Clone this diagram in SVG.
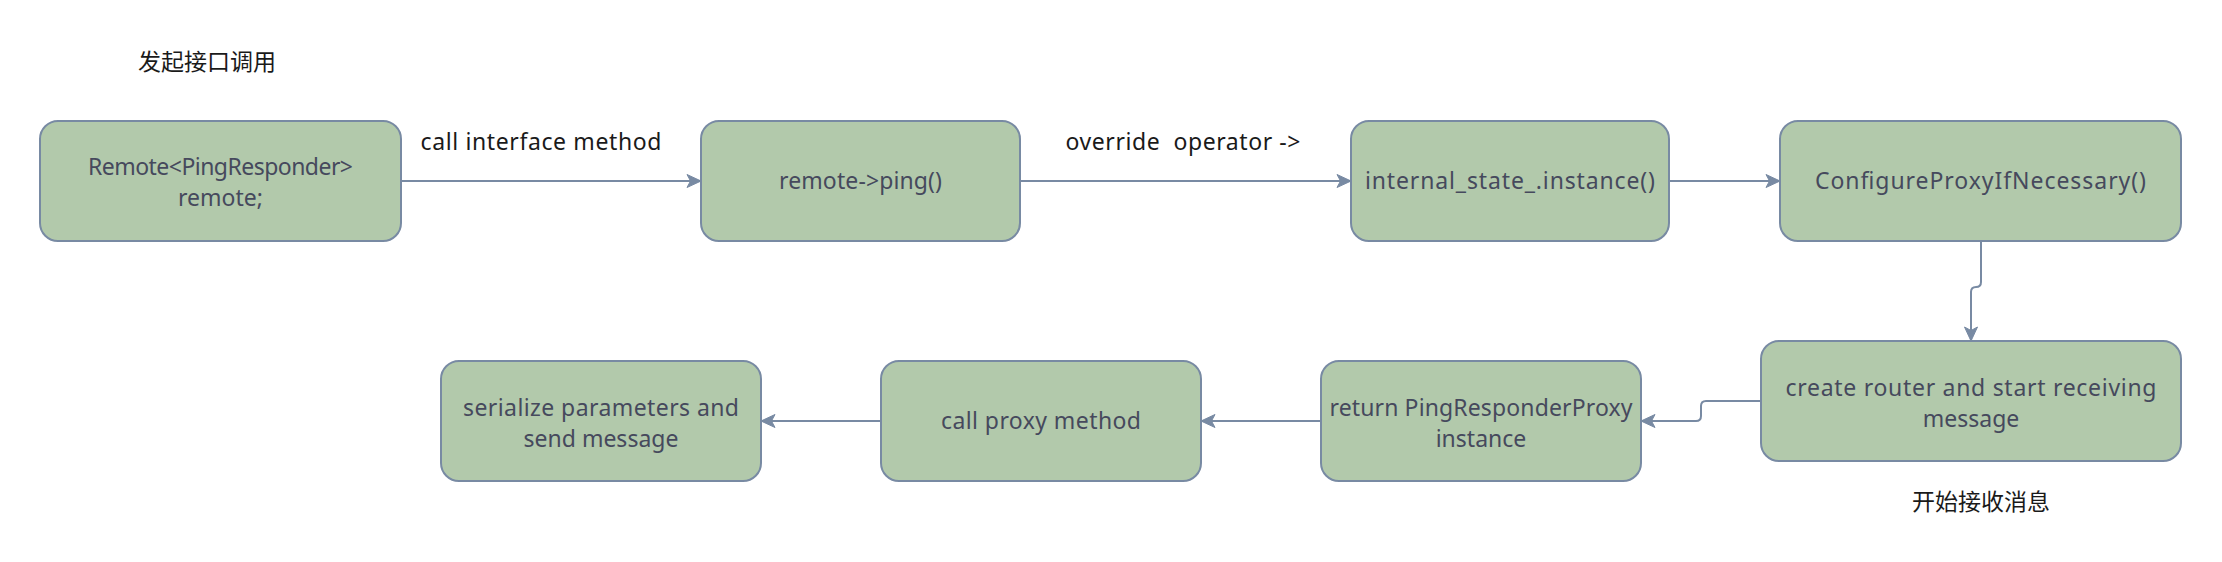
<svg xmlns="http://www.w3.org/2000/svg" width="2222" height="562" viewBox="0 0 2222 562">
<style>
.node rect{fill:#B2C9AB;stroke:#788AA3;stroke-width:2}
.node text{font-family:"Noto Sans","Liberation Sans",sans-serif;font-size:23px;fill:#46495D;text-anchor:middle}
.edge{fill:none;stroke:#788AA3;stroke-width:2}
.lbl{font-family:"Noto Sans","Liberation Sans",sans-serif;font-size:23px;fill:#1A1A1A;text-anchor:middle;white-space:pre}
.cjk{font-family:"Noto Sans CJK SC",sans-serif;font-size:23px;fill:#1A1A1A;text-anchor:middle}
</style>
<defs>
<marker id="arr" markerUnits="userSpaceOnUse" markerWidth="16" markerHeight="16" viewBox="0 0 16 16" refX="15" refY="8" orient="auto">
<path d="M1,1.5 L15,8 L1,14.5 L4.5,8 Z" fill="#788AA3" stroke="#788AA3" stroke-width="1"/>
</marker>
</defs>
<rect width="2222" height="562" fill="#FFFFFF"/>
<text class="cjk" x="207" y="70">发起接口调用</text>
<text class="cjk" x="1981" y="510">开始接收消息</text>
<g id="connectors">
<path class="edge" marker-end="url(#arr)" d="M401,181 H701"/>
<path class="edge" marker-end="url(#arr)" d="M1020,181 H1351"/>
<path class="edge" marker-end="url(#arr)" d="M1669,181 H1780"/>
<path class="edge" marker-end="url(#arr)" d="M1981,241 V282 Q1981,287 1976,287 Q1971,287 1971,292 V341"/>
<path class="edge" marker-end="url(#arr)" d="M1761,401 H1706 Q1701,401 1701,406 V416 Q1701,421 1696,421 H1641"/>
<path class="edge" marker-end="url(#arr)" d="M1321,421 H1201"/>
<path class="edge" marker-end="url(#arr)" d="M881,421 H761"/>
<text class="lbl" x="541" y="150" textLength="241">call interface method</text>
<text class="lbl" x="1183" y="150" textLength="235">override  operator -&gt;</text>
</g>
<g id="n1" class="node"><rect x="40" y="121" width="361" height="120" rx="18"/><text x="220.5" y="175" textLength="265">Remote&lt;PingResponder&gt;</text><text x="220.5" y="206">remote;</text></g>
<g id="n2" class="node"><rect x="701" y="121" width="319" height="120" rx="18"/><text x="860.5" y="189" textLength="163">remote-&gt;ping()</text></g>
<g id="n3" class="node"><rect x="1351" y="121" width="318" height="120" rx="18"/><text x="1510" y="189" textLength="290">internal_state_.instance()</text></g>
<g id="n4" class="node"><rect x="1780" y="121" width="401" height="120" rx="18"/><text x="1980.5" y="189" textLength="331">ConfigureProxyIfNecessary()</text></g>
<g id="n5" class="node"><rect x="1761" y="341" width="420" height="120" rx="18"/><text x="1971" y="396" textLength="371">create router and start receiving</text><text x="1971" y="427">message</text></g>
<g id="n6" class="node"><rect x="1321" y="361" width="320" height="120" rx="18"/><text x="1481" y="416" textLength="303">return PingResponderProxy</text><text x="1481" y="447">instance</text></g>
<g id="n7" class="node"><rect x="881" y="361" width="320" height="120" rx="18"/><text x="1041" y="429" textLength="200">call proxy method</text></g>
<g id="n8" class="node"><rect x="441" y="361" width="320" height="120" rx="18"/><text x="601" y="416" textLength="276">serialize parameters and</text><text x="601" y="447">send message</text></g>
</svg>
